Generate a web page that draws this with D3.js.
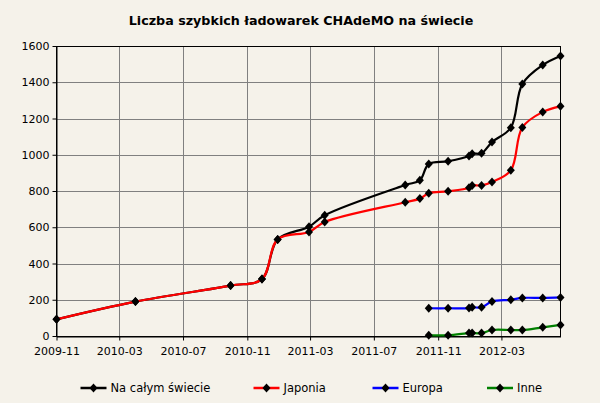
<!DOCTYPE html>
<html>
<head>
<meta charset="utf-8">
<script src="https://cdn.jsdelivr.net/npm/d3@7"></script>
<style>
  body { margin: 0; background: #f5f2ea; }
  svg { display: block; font-family: "DejaVu Sans", Verdana, sans-serif; }
</style>
</head>
<body>
<svg></svg>
<script>
var width = 600, height = 403;
var margin = {left: 56.5, right: 39.5, top: 46, bottom: 67};

// dates of the data points
var dates = ["2009-11-01", "2010-04-01", "2010-09-30", "2010-11-29", "2010-12-29",
             "2011-02-27", "2011-03-29", "2011-08-30", "2011-09-27", "2011-10-14",
             "2011-11-20", "2011-12-30", "2012-01-05", "2012-01-23", "2012-02-12",
             "2012-03-19", "2012-04-10", "2012-05-19", "2012-06-22"];
var total  = [92, 190, 278, 314, 533, 603, 666, 833, 859, 949, 964, 993, 1006, 1008, 1070, 1149, 1390, 1495, 1545];
var japan  = [92, 190, 278, 314, 533, 574, 629, 738, 758, 788, 798, 818, 831, 831, 850, 914, 1151, 1236, 1267];
// Europa and Inne start at the 10th date
var europe = [153, 153, 154, 158, 158, 191, 200, 210, 210, 213];
var other  = [4, 4, 16, 16, 16, 33, 33, 33, 48, 61];

var seriesNames  = ["Na całym świecie", "Japonia", "Europa", "Inne"];
var seriesColors = ["#000000", "#ff0000", "#0000ff", "#008000"];
var xTickLabels  = ["2009-11", "2010-03", "2010-07", "2010-11", "2011-03", "2011-07", "2011-11", "2012-03"];
var yTicks = [0, 200, 400, 600, 800, 1000, 1200, 1400, 1600];

var parse = d3.timeParse("%Y-%m-%d");
var parseM = d3.timeParse("%Y-%m");
var dd = dates.map(parse);

var series = [
  total.map((v, i) => ({date: dd[i], value: v})),
  japan.map((v, i) => ({date: dd[i], value: v})),
  europe.map((v, i) => ({date: dd[i + 9], value: v})),
  other.map((v, i) => ({date: dd[i + 9], value: v}))
];

var xScale = d3.scaleTime()
               .domain([dd[0], dd[dd.length - 1]])
               .range([margin.left, width - margin.right]);
var yScale = d3.scaleLinear()
               .domain([0, 1600])
               .range([height - margin.bottom, margin.top]);

var svg = d3.select("svg").attr("width", width).attr("height", height);

svg.append("rect").attr("width", width).attr("height", height).attr("fill", "#f5f2ea");

// grid
var x0 = margin.left, x1 = width - margin.right, y0 = height - margin.bottom, y1 = margin.top;
svg.append("g")
   .selectAll("line")
   .data(yTicks.slice(1, -1))
   .enter().append("line")
   .attr("x1", x0).attr("x2", x1)
   .attr("y1", d => Math.round(yScale(d)) + 0.5).attr("y2", d => Math.round(yScale(d)) + 0.5)
   .attr("stroke", "#808080");
svg.append("g")
   .selectAll("line")
   .data(xTickLabels.slice(1))
   .enter().append("line")
   .attr("x1", d => Math.round(xScale(parseM(d))) + 0.5).attr("x2", d => Math.round(xScale(parseM(d))) + 0.5)
   .attr("y1", y0).attr("y2", y1)
   .attr("stroke", "#808080");

// plot border
svg.append("rect")
   .attr("x", x0).attr("y", y1 + 0.5)
   .attr("width", x1 - x0).attr("height", y0 - y1)
   .attr("fill", "none").attr("stroke", "#000");

var xAxis = d3.axisBottom(xScale)
              .tickValues(xTickLabels.map(parseM))
              .tickFormat(d3.timeFormat("%Y-%m"))
              .tickSize(4).tickSizeOuter(0);
var yAxis = d3.axisLeft(yScale).tickValues(yTicks).tickFormat(d3.format("d")).tickSize(4).tickSizeOuter(0);

svg.append("g")
   .attr("transform", "translate(0," + (y0 + 0.5) + ")")
   .call(xAxis)
   .call(g => g.selectAll("text").attr("font-size", 11).attr("fill", "#000").attr("dy", "1.05em"))
   .call(g => g.selectAll("line,path").attr("stroke", "#000"))
   .attr("font-family", null);

svg.append("g")
   .attr("transform", "translate(" + x0 + ",0)")
   .call(yAxis)
   .call(g => g.selectAll("text").attr("font-size", 11).attr("fill", "#000"))
   .call(g => g.selectAll("line,path").attr("stroke", "#000"))
   .attr("font-family", null);

var line = d3.line()
             .x(d => xScale(d.date))
             .y(d => yScale(d.value))
             .curve(d3.curveCatmullRom);

var diamond = "M0,-4.5L4,0L0,4.5L-4,0Z";

series.forEach(function(s, i) {
  svg.append("path")
     .datum(s)
     .attr("d", line)
     .attr("fill", "none")
     .attr("stroke", seriesColors[i])
     .attr("stroke-width", 2.2);
  svg.append("g")
     .selectAll("path")
     .data(s)
     .enter().append("path")
     .attr("d", diamond)
     .attr("transform", d => "translate(" + xScale(d.date) + "," + yScale(d.value) + ")")
     .attr("fill", "#000");
});

// title
svg.append("text")
   .attr("x", 301)
   .attr("y", 25)
   .attr("text-anchor", "middle")
   .attr("font-weight", "bold")
   .attr("font-size", 12.7)
   .text("Liczba szybkich ładowarek CHAdeMO na świecie");

// legend
var legendX = [93.5, 266.5, 385.5, 500];
var legend = svg.append("g")
                .selectAll("g")
                .data(seriesNames)
                .enter().append("g")
                .attr("transform", (d, i) => "translate(" + legendX[i] + ",388)");
legend.append("line")
      .attr("x1", -13).attr("x2", 13)
      .attr("stroke", (d, i) => seriesColors[i])
      .attr("stroke-width", 2.5);
legend.append("path").attr("d", diamond).attr("fill", "#000");
legend.append("text")
      .attr("x", 17)
      .attr("dy", "0.36em")
      .attr("font-size", 11.5)
      .text(d => d);
</script>
</body>
</html>
